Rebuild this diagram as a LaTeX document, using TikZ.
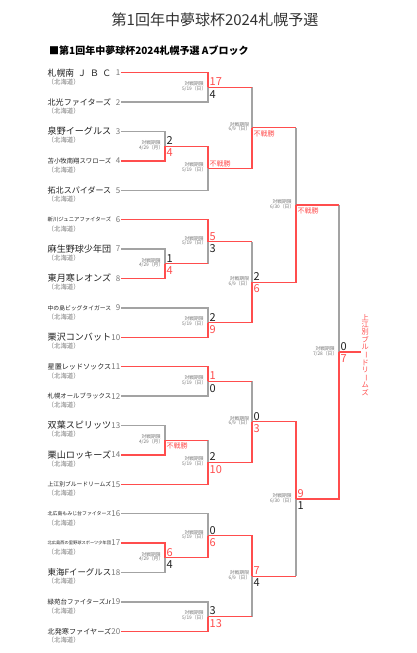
\documentclass[tikz,border=0pt]{standalone}
\usepackage{fontspec}
\setmainfont{Noto Sans CJK JP}
\usepackage{graphicx}
\definecolor{wincolor}{HTML}{FF4D4D}
\definecolor{losecolor}{HTML}{A3A3A3}
\definecolor{inkcolor}{HTML}{222222}
\definecolor{titlecolor}{HTML}{333333}
\definecolor{notecolor}{HTML}{777777}
\newcommand{\bkfs}[1]{\fontsize{#1}{#1}\selectfont}
\tikzset{
  brk win/.style={wincolor,line width=1.3pt},
  brk lose/.style={losecolor,line width=1.3pt},
  brk name/.style={anchor=west,inner sep=0pt,text=inkcolor,font=\bkfs{10}},
  brk num/.style={anchor=east,inner sep=0pt,text=notecolor,font=\bkfs{8}},
  brk pref/.style={anchor=west,inner sep=0pt,text=notecolor,font=\bkfs{6.4}},
  brk date/.style={anchor=east,inner sep=0pt,xshift=-1.5pt,yshift=.8pt,align=center,text=notecolor,font=\bkfs{4.8}},
  brk hi/.style={anchor=south west,inner sep=0pt,xshift=1.5pt,yshift=1.4pt,font=\bkfs{11}},
  brk lo/.style={anchor=north west,inner sep=0pt,xshift=1.5pt,yshift=-2.6pt,font=\bkfs{11}},
  brk won/.style={text=wincolor},
  brk lost/.style={text=inkcolor},
  brk walk/.style={text=wincolor,font=\bkfs{7}}
}

\begin{document}
\begin{tikzpicture}[x=1pt,y=-1pt]
  \fill[white] (0,0) rectangle (416,653);
  \useasboundingbox (0,0) rectangle (416,653);
  % headings
  \node[text=titlecolor,font=\bkfs{15}] (title) at (215,20) {第1回年中夢球杯2024札幌予選};
  \node[anchor=west,inner sep=0pt,font=\bkfs{10}\bfseries] (subtitle) at (49,51) {■第1回年中夢球杯2024札幌予選 Aブロック};
  % teams
  \foreach \i/\team in {1/{札幌南\hspace{.4em}Ｊ\hspace{.4em}Ｂ\hspace{.4em}Ｃ},2/北光ファイターズ,3/泉野イーグルス,
      4/苫小牧南翔スワローズ,5/拓北スパイダース,6/新川ジュニアファイターズ,7/麻生野球少年団,
      8/東月寒レオンズ,9/中の島ビッグタイガース,10/栗沢コンバット,11/星置レッドソックス,
      12/札幌オールブラックス,13/双葉スピリッツ,14/栗山ロッキーズ,15/上江別ブルードリームズ,
      16/北広島もみじ台ファイターズ,17/北広島西の里野球スポーツ少年団,18/東海Fイーグルス,
      19/緑苑台ファイターズJr,20/北発寒ファイヤーズ}{
    \pgfmathsetmacro\ty{72.7+(\i-1)*29.4}
    \coordinate (t\i) at (121,\ty);
    \node[brk name] (name\i) at (47.5,\ty) {\resizebox{63.5pt}{!}{\team}};
    \node[brk num] (num\i) at (120.5,\ty) {\i};
    \node[brk pref] (pref\i) at (47.5,\ty+9) {（北海道）};
  }
  % match points
  \coordinate (m34) at (165,146.2);
  \coordinate (m78) at (165,263.8);
  \coordinate (m1314) at (165,440.2);
  \coordinate (m1718) at (165,557.8);
  \coordinate (m12) at (208,87.4);
  \coordinate (m345) at (208,168.25);
  \coordinate (m678) at (208,241.75);
  \coordinate (m910) at (208,322.6);
  \coordinate (m1112) at (208,381.4);
  \coordinate (m1315) at (208,462.25);
  \coordinate (m1618) at (208,535.75);
  \coordinate (m1920) at (208,616.6);
  \coordinate (q1) at (252,127.8);
  \coordinate (q2) at (252,282.2);
  \coordinate (q3) at (252,421.8);
  \coordinate (q4) at (252,576.2);
  \coordinate (s1) at (296,205);
  \coordinate (s2) at (296,499);
  \coordinate (f) at (339,352);
  \coordinate (fend) at (361,352);
  % losing sides
  \foreach \a/\b in {t2/m12,t3/m34,t5/m345,t7/m78,t9/m910,t12/m1112,t13/m1314,t16/m1618,t18/m1718,t19/m1920}
    \draw[brk lose] (\a) -| (\b);
  \foreach \a/\b in {m78/m678,m1314/m1315,m12/q1,m678/q2,m1112/q3,m1920/q4,q1/s1,q4/s2,s1/f}{
    \draw[brk lose] (\a -| \b) -- (\b);
    \draw[brk win] (\a) -- (\a -| \b);
  }
  % winning sides
  \foreach \a/\b in {t1/m12,t4/m34,t6/m678,t8/m78,t10/m910,t11/m1112,t14/m1314,t15/m1315,t17/m1718,t20/m1920,
      m34/m345,m1718/m1618,m345/q1,m910/q2,m1315/q3,m1618/q4,q2/s1,q3/s2,s2/f}
    \draw[brk win] (\a) -| (\b);
  \draw[brk win] (f) -- (fend);
  % dates
  \foreach \m in {m34,m78,m1314,m1718}
    \node[brk date] (d\m) at (\m) {対戦期限\\4/29（月）};
  \foreach \m in {m12,m345,m678,m910,m1112,m1315,m1618,m1920}
    \node[brk date] (d\m) at (\m) {対戦期限\\5/19（日）};
  \foreach \m in {q1,q2,q3,q4}
    \node[brk date] (d\m) at (\m) {対戦期限\\6/9（日）};
  \foreach \m in {s1,s2}
    \node[brk date] (d\m) at (\m) {対戦期限\\6/30（日）};
  \node[brk date] (df) at (f) {対戦期限\\7/28（日）};
  % scores
  \node[brk hi,brk lost] (h34) at (m34) {2};
  \node[brk lo,brk won] (l34) at (m34) {4};
  \node[brk hi,brk lost] (h78) at (m78) {1};
  \node[brk lo,brk won] (l78) at (m78) {4};
  \node[brk lo,brk walk] (l1314) at (m1314) {不戦勝};
  \node[brk hi,brk won] (h1718) at (m1718) {6};
  \node[brk lo,brk lost] (l1718) at (m1718) {4};
  \node[brk hi,brk won] (h12) at (m12) {17};
  \node[brk lo,brk lost] (l12) at (m12) {4};
  \node[brk hi,brk walk] (h345) at (m345) {不戦勝};
  \node[brk hi,brk won] (h678) at (m678) {5};
  \node[brk lo,brk lost] (l678) at (m678) {3};
  \node[brk hi,brk lost] (h910) at (m910) {2};
  \node[brk lo,brk won] (l910) at (m910) {9};
  \node[brk hi,brk won] (h1112) at (m1112) {1};
  \node[brk lo,brk lost] (l1112) at (m1112) {0};
  \node[brk hi,brk lost] (h1315) at (m1315) {2};
  \node[brk lo,brk won] (l1315) at (m1315) {10};
  \node[brk hi,brk lost] (h1618) at (m1618) {0};
  \node[brk lo,brk won] (l1618) at (m1618) {6};
  \node[brk hi,brk lost] (h1920) at (m1920) {3};
  \node[brk lo,brk won] (l1920) at (m1920) {13};
  \node[brk lo,brk walk] (lq1) at (q1) {不戦勝};
  \node[brk hi,brk lost] (hq2) at (q2) {2};
  \node[brk lo,brk won] (lq2) at (q2) {6};
  \node[brk hi,brk lost] (hq3) at (q3) {0};
  \node[brk lo,brk won] (lq3) at (q3) {3};
  \node[brk hi,brk won] (hq4) at (q4) {7};
  \node[brk lo,brk lost] (lq4) at (q4) {4};
  \node[brk lo,brk walk] (ls1) at (s1) {不戦勝};
  \node[brk hi,brk won] (hs2) at (s2) {9};
  \node[brk lo,brk lost] (ls2) at (s2) {1};
  \node[brk hi,brk lost] (hf) at (f) {0};
  \node[brk lo,brk won] (lf) at (f) {7};
  % champion
  \node[anchor=west,inner sep=.5pt,yshift=-3pt,align=center,text=wincolor,font=\bkfs{7.2}] (champ) at (fend)
    {上\\江\\別\\ブ\\ル\\\rotatebox[origin=c]{-90}{ー}\\ド\\リ\\\rotatebox[origin=c]{-90}{ー}\\ム\\ズ};
\end{tikzpicture}
\end{document}
